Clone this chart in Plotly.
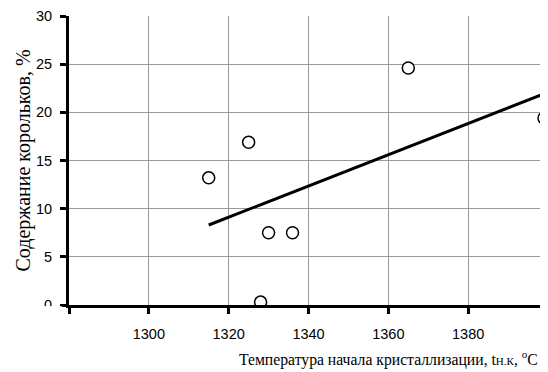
import numpy as np
import plotly.graph_objects as go

# Data
temperature = [1315, 1325, 1330, 1336, 1328, 1365, 1399]
content = [13.2, 16.9, 7.5, 7.5, 0.3, 24.6, 19.4]

x_tickvals = [1300, 1320, 1340, 1360, 1380]
x_ticktext = ["1300", "1320", "1340", "1360", "1380"]
x_edge_ticks = [1280, 1400]
y_tickvals = [0, 5, 10, 15, 20, 25, 30]

y_title = "Содержание корольков, %"
x_title = "Температура начала кристаллизации, t<span style='font-size:11px'>Н.К</span>, <sup>o</sup>C"

# Linear trend line (least squares) over data range
slope, intercept = np.polyfit(temperature, content, 1)
trend_x = [min(temperature), max(temperature)]
trend_y = [slope * v + intercept for v in trend_x]

sans = "Liberation Sans, Arial, sans-serif"
serif = "Liberation Serif, Times New Roman, serif"

fig = go.Figure()
fig.add_trace(go.Scatter(
    x=trend_x, y=trend_y, mode="lines",
    line=dict(color="black", width=3), hoverinfo="skip", showlegend=False,
))
fig.add_trace(go.Scatter(
    x=temperature, y=content, mode="markers",
    marker=dict(symbol="circle", size=12, color="white",
                line=dict(color="black", width=1.5)),
    showlegend=False, cliponaxis=True,
))

fig.update_layout(
    width=540, height=364,
    margin=dict(l=61, r=0, t=8, b=67),
    paper_bgcolor="white", plot_bgcolor="white",
    font=dict(family=sans, size=14.5, color="black"),
    xaxis=dict(
        range=[1280, 1400], tickvals=x_tickvals, ticktext=x_ticktext,
        showgrid=True, gridcolor="#9a9a9a", gridwidth=1,
        showline=True, linecolor="black", linewidth=3,
        ticks="outside", ticklen=6, tickwidth=3, tickcolor="black",
        ticklabelstandoff=8, zeroline=False, layer="below traces",
        ticklabeloverflow="allow",
        minor=dict(tickvals=x_edge_ticks, ticks="outside", ticklen=6,
                   tickwidth=3, tickcolor="black", showgrid=True,
                   gridcolor="#9a9a9a", gridwidth=1),
    ),
    yaxis=dict(
        range=[0, 30], tickvals=y_tickvals,
        showgrid=True, gridcolor="#9a9a9a", gridwidth=1,
        showline=True, linecolor="black", linewidth=3,
        ticks="outside", ticklen=6, tickwidth=3, tickcolor="black",
        ticklabelstandoff=5, zeroline=False, layer="below traces",
        ticklabeloverflow="allow",
    ),
    annotations=[
        dict(text=y_title, xref="paper", yref="paper", x=0, y=0.5,
             xanchor="center", yanchor="middle", xshift=-46, textangle=-90,
             showarrow=False, font=dict(family=serif, size=20, color="black")),
        dict(text=x_title, xref="paper", yref="paper", x=0.983, y=0,
             xanchor="right", yanchor="middle", yshift=-53,
             showarrow=False, font=dict(family=serif, size=15.7, color="black")),
    ],
    shapes=[
        dict(type="rect", xref="paper", yref="paper",
             x0=-0.06, x1=-0.015, y0=-0.06, y1=-0.004,
             fillcolor="white", line=dict(width=0), layer="above"),
    ],
)

fig.write_html("out.html")
